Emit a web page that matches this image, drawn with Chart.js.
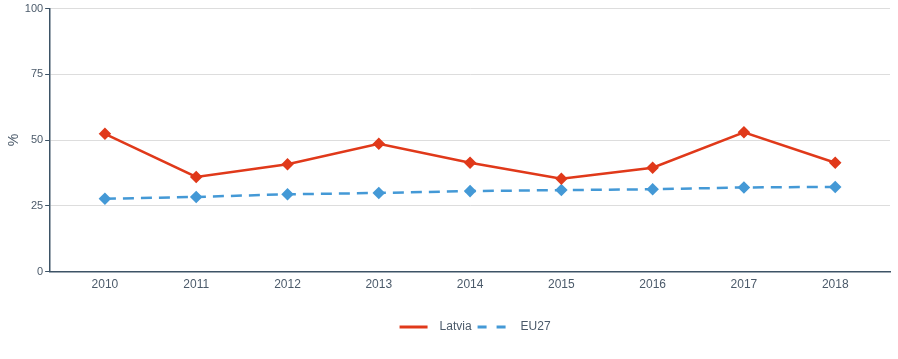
<!DOCTYPE html>
<html>
<head>
<meta charset="utf-8">
<script src="https://cdn.jsdelivr.net/npm/chart.js@4"></script>
<style>
html,body{margin:0;padding:0;background:#fff;}
#wrap{width:898px;height:359px;position:relative;}
</style>
</head>
<body>
<div id="wrap"><canvas id="c" width="898" height="359"></canvas></div>
<script>
const years = [2010, 2011, 2012, 2013, 2014, 2015, 2016, 2017, 2018];
const latvia = [52.4, 36.0, 40.8, 48.6, 41.4, 35.3, 39.5, 53.0, 41.4];
const eu27 = [27.7, 28.4, 29.4, 29.9, 30.6, 31.0, 31.3, 32.0, 32.2];
const yTicks = [0, 25, 50, 75, 100];

const textColor = '#4b5a6a';
const axisColor = '#3d5366';
const redColor = '#e0391a';
const blueColor = '#4499d6';
const font = 'Liberation Sans, Arial, sans-serif';

const bottomLegend = {
  id: 'bottomLegend',
  afterDraw(chart) {
    const ctx = chart.ctx;
    const area = chart.chartArea;
    const y = 327;
    ctx.save();
    ctx.font = '12px ' + font;
    const items = chart.data.datasets.map(ds => ({ds, w: ctx.measureText(ds.label).width}));
    const lineW = 28, gapText = 12, gapItem = 9;
    let total = 0;
    items.forEach((it, i) => { total += lineW + gapText + it.w + (i ? gapItem : 0); });
    let x = (area.left + area.right) / 2 + 5 - total / 2;
    items.forEach((it, i) => {
      const ds = it.ds;
      ctx.strokeStyle = ds.borderColor;
      ctx.lineWidth = 3;
      ctx.lineCap = 'butt';
      ctx.setLineDash(i === 1 ? [9, 10] : []);
      ctx.beginPath();
      ctx.moveTo(x - (i === 1 ? 3 : 0), y);
      ctx.lineTo(x + lineW, y);
      ctx.stroke();
      ctx.setLineDash([]);
      ctx.fillStyle = textColor;
      ctx.textBaseline = 'middle';
      ctx.textAlign = 'left';
      ctx.fillText(ds.label, x + lineW + gapText, y);
      x += lineW + gapText + it.w + gapItem;
    });
    ctx.restore();
  }
};

new Chart(document.getElementById('c'), {
  type: 'line',
  data: {
    datasets: [
      {
        label: 'Latvia',
        data: years.map((y, i) => ({x: y, y: latvia[i]})),
        borderColor: redColor,
        backgroundColor: redColor,
        borderWidth: 2.5,
        pointStyle: 'rectRot',
        pointRadius: 4.5,
        pointHoverRadius: 4.5,
        tension: 0
      },
      {
        label: 'EU27',
        data: years.map((y, i) => ({x: y, y: eu27[i]})),
        borderColor: blueColor,
        backgroundColor: blueColor,
        borderWidth: 2.5,
        borderDash: [11, 7],
        pointStyle: 'rectRot',
        pointRadius: 4.5,
        pointHoverRadius: 4.5,
        tension: 0
      }
    ]
  },
  options: {
    responsive: false,
    animation: false,
    layout: {padding: {left: 0, right: 8, top: 7, bottom: 64}},
    plugins: {
      tooltip: {enabled: false},
      legend: {display: false}
    },
    scales: {
      x: {
        type: 'linear',
        min: 2009.4,
        max: 2018.6,
        afterBuildTicks: (axis) => { axis.ticks = years.map(v => ({value: v})); },
        grid: {display: false, drawOnChartArea: false, drawTicks: true, tickLength: 3, color: axisColor},
        border: {display: true, color: axisColor, width: 1.5},
        ticks: {
          color: textColor,
          font: {family: font, size: 12},
          callback: (v) => String(v),
          maxRotation: 0,
          padding: 3
        }
      },
      y: {
        min: 0,
        max: 100,
        afterBuildTicks: (axis) => { axis.ticks = yTicks.map(v => ({value: v})); },
        grid: {color: '#dddddd', lineWidth: 1, drawTicks: true, tickLength: 5, tickColor: axisColor},
        border: {display: true, color: axisColor, width: 1.5},
        ticks: {
          color: textColor,
          font: {family: font, size: 11},
          padding: 2
        },
        title: {
          display: true,
          text: '%',
          color: textColor,
          font: {family: font, size: 14},
          padding: {top: 6, bottom: 0}
        }
      }
    }
  },
  plugins: [bottomLegend]
});
</script>
</body>
</html>
